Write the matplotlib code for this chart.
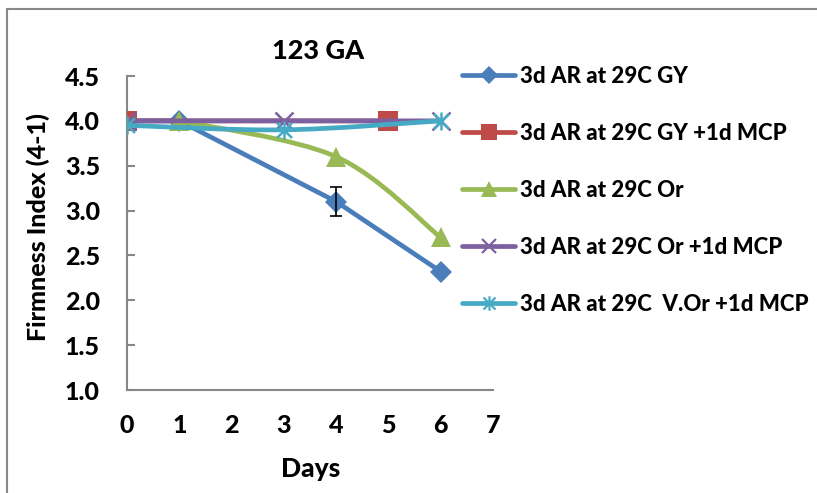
import matplotlib
matplotlib.use("Agg")
import matplotlib.pyplot as plt
from matplotlib.path import Path
from matplotlib.patches import PathPatch, Rectangle
from matplotlib.lines import Line2D
from matplotlib.ticker import FormatStrFormatter

WEIGHT = 900
FS = 18
plt.rcParams["font.family"] = "Lato"
plt.rcParams["font.weight"] = WEIGHT
plt.rcParams["ytick.direction"] = "in"

# firmness readings per treatment (days after ripening start)
gy_days = [0, 1, 4, 6]
gy_vals = [4.0, 4.0, 3.1, 2.32]
gy_err = [0, 0, 0.16, 0]

gy_mcp_days = [0, 5]
gy_mcp_vals = [4.0, 4.0]

or_days = [1, 4, 6]
or_vals = [4.0, 3.6, 2.7]

or_mcp_days = [0, 3, 6]
or_mcp_vals = [4.0, 4.0, 4.0]

vor_mcp_days = [0, 3, 6]
vor_mcp_vals = [3.95, 3.9, 4.0]

labels = [
    "3d AR at 29C GY",
    "3d AR at 29C GY +1d MCP",
    "3d AR at 29C Or",
    "3d AR at 29C Or +1d MCP",
    "3d AR at 29C  V.Or +1d MCP",
]
colors = ["#4A7EBB", "#BE4B48", "#98B954", "#7D60A0", "#46AAC5"]

# asterisk marker: an x with a vertical stroke through it
star = Path(
    [(-1, -1), (1, 1), (-1, 1), (1, -1), (0, -1.2), (0, 1.2)],
    [Path.MOVETO, Path.LINETO, Path.MOVETO, Path.LINETO, Path.MOVETO, Path.LINETO],
)


def smooth_path(xs, ys):
    # cardinal spline as cubic bezier segments, like a spreadsheet "smoothed line"
    pts = list(zip(xs, ys))
    n = len(pts)
    verts = [pts[0]]
    codes = [Path.MOVETO]
    for i in range(n - 1):
        p0 = pts[i - 1] if i > 0 else pts[i]
        p1 = pts[i]
        p2 = pts[i + 1]
        p3 = pts[i + 2] if i + 2 < n else pts[i + 1]
        c1 = (p1[0] + (p2[0] - p0[0]) / 6, p1[1] + (p2[1] - p0[1]) / 6)
        c2 = (p2[0] - (p3[0] - p1[0]) / 6, p2[1] - (p3[1] - p1[1]) / 6)
        verts += [c1, c2, p2]
        codes += [Path.CURVE4] * 3
    return Path(verts, codes)


fig = plt.figure(figsize=(8.17, 4.93), dpi=100)
W, H = 817, 493
ax = fig.add_axes([127 / W, (H - 390) / H, (493 - 127) / W, (390 - 76) / H])

# (days, values, marker, marker size, smoothed)
series = [
    (gy_days, gy_vals, "D", 11, False),
    (gy_mcp_days, gy_mcp_vals, "s", 14.5, True),
    (or_days, or_vals, "^", 15, True),
    (or_mcp_days, or_mcp_vals, "x", 13, True),
    (vor_mcp_days, vor_mcp_vals, star, 13, True),
]

LW = 3.4
LEG_MS = 0.8
handles = []
for k, (xs, ys, mk, ms, smooth) in enumerate(series):
    c = colors[k]
    z = 2 + k
    if smooth:
        ax.add_patch(PathPatch(smooth_path(xs, ys), fill=False, edgecolor=c,
                               lw=LW, capstyle="round", joinstyle="round", zorder=z))
    else:
        ax.plot(xs, ys, color=c, lw=LW, solid_capstyle="round",
                solid_joinstyle="round", zorder=z)
    hollow = mk == "x" or mk is star
    if hollow:
        ax.plot(xs, ys, ls="none", marker=mk, ms=ms, mec=c, mew=1.8, zorder=z)
        h = Line2D([], [], color=c, lw=LW, marker=mk, ms=ms * LEG_MS, mec=c,
                   mew=1.6, solid_capstyle="round")
    else:
        ax.plot(xs, ys, ls="none", marker=mk, ms=ms, mfc=c, mec=c, mew=0, zorder=z)
        h = Line2D([], [], color=c, lw=LW, marker=mk, ms=ms * LEG_MS, mfc=c,
                   mec=c, mew=0, solid_capstyle="round")
    handles.append(h)

# only the day-4 reading carries an error bar
eb_x = [d for d, e in zip(gy_days, gy_err) if e > 0]
eb_y = [v for v, e in zip(gy_vals, gy_err) if e > 0]
eb_e = [e for e in gy_err if e > 0]
ax.errorbar(eb_x, eb_y, yerr=eb_e, fmt="none", ecolor="black",
            elinewidth=1.2, capsize=4, capthick=1.2, zorder=10)

ax.set_xlim(0, 7)
ax.set_ylim(1.0, 4.5)
ax.set_xticks(range(0, 8))
ax.set_yticks([1.0, 1.5, 2.0, 2.5, 3.0, 3.5, 4.0, 4.5])
ax.yaxis.set_major_formatter(FormatStrFormatter("%.1f"))

for side in ("top", "right"):
    ax.spines[side].set_visible(False)
for side in ("left", "bottom"):
    ax.spines[side].set_color("#878787")
    ax.spines[side].set_linewidth(1.5)
ax.tick_params(axis="y", length=6, width=1.5, color="#878787", labelsize=FS)
ax.tick_params(axis="x", length=0, labelsize=FS)
for tk in ax.yaxis.get_major_ticks():
    tk.set_pad(19.5)
for tk in ax.xaxis.get_major_ticks():
    tk.set_pad(17)
for t in ax.get_xticklabels() + ax.get_yticklabels():
    t.set_fontweight(WEIGHT)

fig.text(318 / W, 1 - 51 / H, "123 GA", ha="center", va="center",
         fontsize=19.5, fontweight=WEIGHT)
fig.text(38 / W, 1 - 227 / H, "Firmness Index (4-1)", ha="center", va="center",
         rotation=90, fontsize=FS, fontweight=WEIGHT)
fig.text(311 / W, 1 - 469 / H, "Days", ha="center", va="center",
         fontsize=FS + 1, fontweight=WEIGHT)

fig.legend(handles, labels, loc="upper left", bbox_to_anchor=(462 / W, 1 - 66 / H),
           frameon=False, handlelength=2.4, handletextpad=0.2,
           labelspacing=1.62, borderaxespad=0, borderpad=0,
           prop={"weight": WEIGHT, "size": 16})

# chart-area border
fig.add_artist(Rectangle((7 / W, -0.2), 2, 1.2 - 9 / H, transform=fig.transFigure,
                         fill=False, edgecolor="#898989", lw=1.5))

fig.savefig("out.png", dpi=100)
